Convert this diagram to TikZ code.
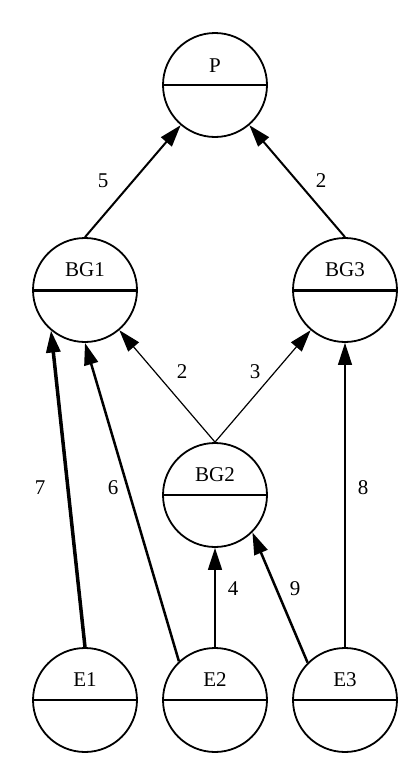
\documentclass[tikz,border=0pt]{standalone}
\usepackage{fontspec}
\setmainfont{Liberation Serif}
\usetikzlibrary{arrows.meta}
\begin{document}
\begin{tikzpicture}[x=1pt,y=-1pt,
  etat/.style={circle,draw,minimum size=104pt,inner sep=0,line width=1.8pt},
  nom/.style={font=\fontsize{21}{21}\selectfont,inner sep=0},
  poids/.style={font=\fontsize{21}{21}\selectfont,inner sep=0},
  fleche/.style={-{Triangle[length=22pt,width=14pt]}}]
\useasboundingbox(0,0)rectangle(417,771);
\node[etat](P)at(215,85){};
\node[etat](BG1)at(85,290){};
\node[etat](BG3)at(345,290){};
\node[etat](BG2)at(215,495){};
\node[etat](E1)at(85,700){};
\node[etat](E2)at(215,700){};
\node[etat](E3)at(345,700){};
\draw[line width=1.3pt](P.west)--(P.east);
\draw[line width=3pt](BG1.west)--(BG1.east);
\draw[line width=3pt](BG3.west)--(BG3.east);
\draw[line width=1.3pt](BG2.west)--(BG2.east);
\draw[line width=1.3pt](E1.west)--(E1.east);
\draw[line width=1.3pt](E2.west)--(E2.east);
\draw[line width=1.3pt](E3.west)--(E3.east);
\node[nom]at(215,66){P};
\node[nom]at(85,270){BG1};
\node[nom]at(345,270){BG3};
\node[nom]at(215,475){BG2};
\node[nom]at(85,680){E1};
\node[nom]at(215,680){E2};
\node[nom]at(345,680){E3};
\draw[fleche,line width=2pt](BG1.north)--(P);
\draw[fleche,line width=2pt](BG3.north)--(P);
\draw[fleche,line width=1.2pt](BG2.north)--(BG1);
\draw[fleche,line width=1.2pt](BG2.north)--(BG3);
\draw[fleche,line width=3.5pt](E1.north)--(BG1.230);
\draw[fleche,line width=2.5pt](E2.133)--(BG1.south);
\draw[fleche,line width=1.5pt](E2.north)--(BG2.south);
\draw[fleche,line width=2.5pt](E3.135)--(BG2.315);
\draw[fleche,line width=1.2pt](E3.north)--(BG3.south);
\node[poids](w5)at(103,181){5};
\node[poids](w2a)at(321,181){2};
\node[poids](w2b)at(182,372){2};
\node[poids](w3)at(255,372){3};
\node[poids](w7)at(40,488){7};
\node[poids](w6)at(113,488){6};
\node[poids](w8)at(363,488){8};
\node[poids](w4)at(233,589){4};
\node[poids](w9)at(295,589){9};
\end{tikzpicture}
\end{document}
